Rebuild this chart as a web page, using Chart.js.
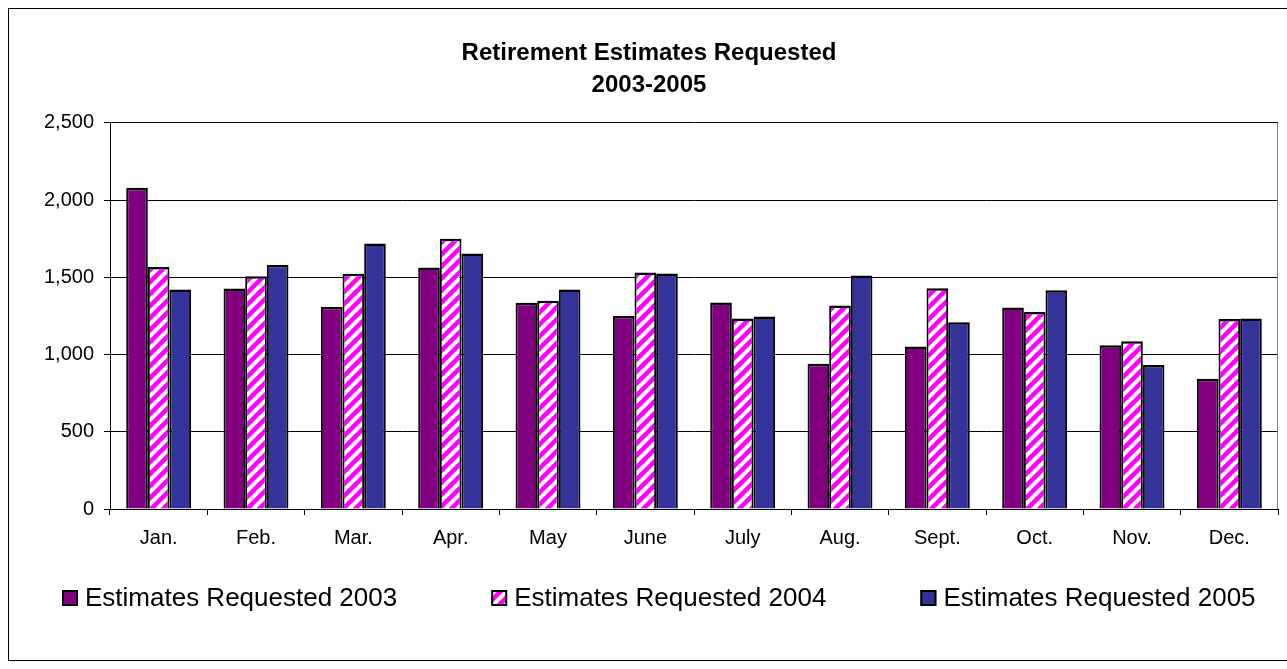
<!DOCTYPE html>
<html>
<head>
<meta charset="utf-8">
<script src="https://cdn.jsdelivr.net/npm/chart.js@4/dist/chart.umd.min.js"></script>
<style>
  html, body { margin: 0; padding: 0; background: #fff; }
  #wrap { width: 1287px; height: 669px; position: relative; }
</style>
</head>
<body>
<div id="wrap"><canvas id="c" width="1287" height="669" style="width:1287px;height:669px"></canvas></div>
<script>
const categories = ['Jan.', 'Feb.', 'Mar.', 'Apr.', 'May', 'June', 'July', 'Aug.', 'Sept.', 'Oct.', 'Nov.', 'Dec.'];
const seriesNames = ['Estimates Requested 2003', 'Estimates Requested 2004', 'Estimates Requested 2005'];
const values2003 = [2080, 1428, 1309, 1564, 1335, 1250, 1337, 941, 1052, 1305, 1060, 844];
const values2004 = [1568, 1508, 1523, 1750, 1348, 1532, 1233, 1318, 1430, 1276, 1086, 1231];
const values2005 = [1421, 1581, 1720, 1655, 1421, 1525, 1246, 1512, 1209, 1417, 933, 1233];
const titleLines = ['Retirement Estimates Requested', '2003-2005'];
const yMin = 0, yMax = 2500, yStep = 500;

const FONT = "'Liberation Sans', Arial, sans-serif";

function stripePattern() {
  const p = document.createElement('canvas');
  p.width = 12; p.height = 12;
  const g = p.getContext('2d');
  g.fillStyle = '#ffffff';
  g.fillRect(0, 0, 12, 12);
  g.strokeStyle = '#ff00ff';
  g.lineWidth = 4.5;
  g.lineCap = 'square';
  [[-6, 6, 6, -6], [0, 12, 12, 0], [6, 18, 18, 6]].forEach(([a, b, c, d]) => {
    g.beginPath(); g.moveTo(a, b); g.lineTo(c, d); g.stroke();
  });
  return g.createPattern(p, 'repeat');
}

const ctx = document.getElementById('c').getContext('2d');
const fills = ['#800080', stripePattern(), '#333399'];

const frame = {
  id: 'frame',
  beforeDraw(chart) {
    const c = chart.ctx;
    c.save();
    c.fillStyle = '#fff';
    c.fillRect(0, 0, chart.width, chart.height);
    c.strokeStyle = '#000';
    c.lineWidth = 1;
    c.strokeRect(8.5, 8.5, 1310, 652);
    c.restore();
  },
  afterDatasetsDraw(chart) {
    const a = chart.chartArea, c = chart.ctx;
    c.save();
    c.strokeStyle = '#808080';
    c.lineWidth = 1;
    c.beginPath();
    c.moveTo(Math.round(a.right) - 0.5, a.top);
    c.lineTo(Math.round(a.right) - 0.5, a.bottom);
    c.stroke();
    c.restore();
  },
  afterDraw(chart) {
    // legend
    const c = chart.ctx;
    c.save();
    c.font = '26px ' + FONT;
    c.textBaseline = 'middle';
    c.textAlign = 'left';
    const y = 598, box = 16, gapText = 7, gapItem = 94;
    let x = 62;
    chart.data.datasets.forEach((ds, i) => {
      c.fillStyle = ds.backgroundColor;
      c.fillRect(x, y - box / 2, box, box);
      c.strokeStyle = '#000';
      c.lineWidth = 2;
      c.strokeRect(x + 1, y - box / 2 + 1, box - 2, box - 2);
      c.fillStyle = '#000';
      c.fillText(ds.label, x + box + gapText, y + 1);
      x += box + gapText + c.measureText(ds.label).width + gapItem;
    });
    c.restore();
  }
};

new Chart(ctx, {
  type: 'bar',
  data: {
    labels: categories,
    datasets: [values2003, values2004, values2005].map((v, i) => ({
      label: seriesNames[i],
      data: v,
      backgroundColor: fills[i],
      borderColor: '#000',
      borderWidth: { top: 2.5, left: 2, right: 2, bottom: 0 },
      categoryPercentage: 0.667,
      barPercentage: 1.0
    }))
  },
  options: {
    responsive: false,
    animation: false,
    devicePixelRatio: 1,
    layout: { padding: { left: 20, right: 9, top: 0, bottom: 120 } },
    plugins: {
      legend: { display: false },
      tooltip: { enabled: false },
      title: {
        display: true,
        text: titleLines,
        color: '#000',
        font: { family: FONT, size: 24, weight: 'bold', lineHeight: 1.333 },
        padding: { top: 37, bottom: 22 }
      }
    },
    scales: {
      x: {
        grid: { display: true, drawOnChartArea: false, drawTicks: true, tickLength: 6, offset: true, color: '#000', lineWidth: 1 },
        border: { display: true, color: '#000', width: 1 },
        ticks: { color: '#000', font: { family: FONT, size: 20 }, padding: 11, maxRotation: 0, autoSkip: false },
        afterFit(s) { s.height = 40; }
      },
      y: {
        min: yMin, max: yMax,
        grid: { color: '#000', lineWidth: 1, drawTicks: true, tickLength: 6 },
        border: { display: true, color: '#000', width: 1 },
        ticks: { stepSize: yStep, color: '#000', font: { family: FONT, size: 20 }, padding: 10,
          callback: v => v.toLocaleString('en-US') },
        afterFit(s) { s.width = 90; }
      }
    }
  },
  plugins: [frame]
});
</script>
</body>
</html>
